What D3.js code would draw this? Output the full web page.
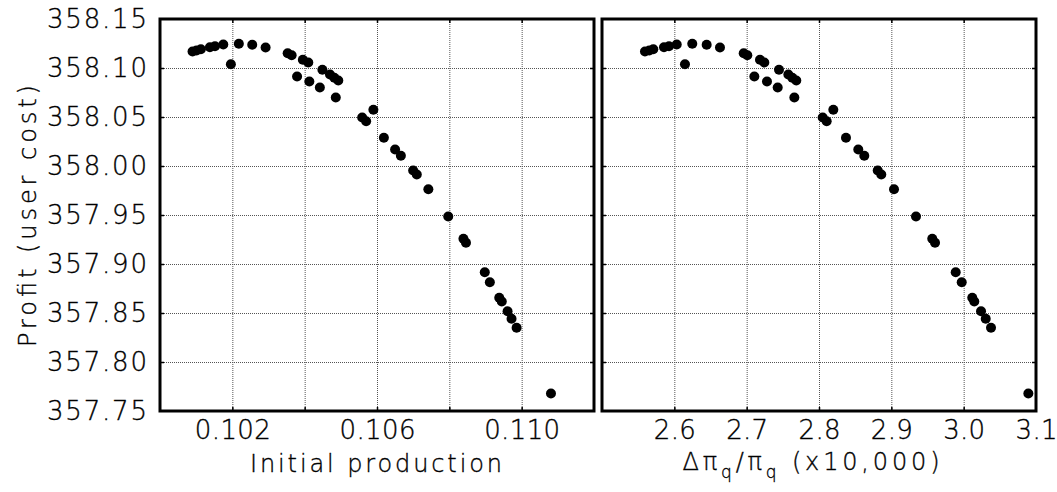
<!DOCTYPE html>
<html><head><meta charset="utf-8">
<script src="https://cdn.jsdelivr.net/npm/d3@7"></script>
<style>
body{margin:0;background:#fff;}
svg{display:block;}
text{font-family:"DejaVu Sans",sans-serif;font-weight:200;fill:#000;stroke:#000;stroke-width:0.35px;}
</style></head>
<body><svg id="c" width="1057" height="492"></svg>
<script>
// Data
const initialProduction = [0.10090,0.10101,0.10113,0.10138,0.10152,0.10175,0.10196,0.10218,0.10255,0.10292,0.10353,0.10364,0.10395,0.10410,0.10379,0.10413,0.10442,0.10449,0.10470,0.10482,0.10493,0.10486,0.10559,0.10570,0.10590,0.10619,0.10650,0.10666,0.10700,0.10710,0.10742,0.10797,0.10839,0.10846,0.10898,0.10912,0.10938,0.10945,0.10961,0.10972,0.10986,0.11081];
const dPiRatio = [2.5594,2.5654,2.5709,2.5857,2.5926,2.6033,2.6147,2.6248,2.6447,2.6631,2.6959,2.7009,2.7184,2.7244,2.7106,2.7281,2.7429,2.7447,2.7576,2.7631,2.7686,2.7659,2.8051,2.8106,2.8198,2.8373,2.8543,2.8626,2.8812,2.8861,2.9037,2.9341,2.9566,2.9604,2.9890,2.9973,3.0119,3.0147,3.0240,3.0305,3.0378,3.0894];
const profit = [358.1168,358.1179,358.1192,358.1212,358.1222,358.1240,358.1039,358.1247,358.1237,358.1209,358.1151,358.1131,358.1084,358.1056,358.0913,358.0862,358.0801,358.0982,358.0934,358.0900,358.0872,358.0699,358.0495,358.0457,358.0574,358.0288,358.0168,358.0104,357.9954,357.9913,357.9763,357.9485,357.9257,357.9216,357.8916,357.8814,357.8655,357.8617,357.8518,357.8441,357.8349,357.7679];

const yTicks = [357.75,357.80,357.85,357.90,357.95,358.00,358.05,358.10,358.15];
const yGrid = [357.80,357.85,357.90,357.95,358.00,358.05,358.10];
const xTicksL = [0.102,0.104,0.106,0.108,0.110];
const xLabelsL = [0.102,0.106,0.110];
const xTicksR = [2.6,2.7,2.8,2.9,3.0];
const xLabelsR = [2.6,2.7,2.8,2.9,3.0,3.1];
const yDomain = [357.75,358.15];
const xDomainL = [0.100,0.112];
const xDomainR = [2.5,3.1];

const svg = d3.select("#c");
const plotTop = 19, plotBottom = 411;
const y = d3.scaleLinear().domain(yDomain).range([plotBottom, plotTop]);
const panels = [
  {x: d3.scaleLinear().domain(xDomainL).range([160,594]), xs: initialProduction, ticks: xTicksL, labels: xLabelsL, fmt: d3.format(".3f"), lw: 76},
  {x: d3.scaleLinear().domain(xDomainR).range([602,1036]), xs: dPiRatio, ticks: xTicksR, labels: xLabelsR, fmt: d3.format(".1f"), lw: 42}
];

panels.forEach((p, i) => {
  const x = p.x, [x0, x1] = x.range();
  const h = plotBottom - plotTop, w = x1 - x0;
  const g = svg.append("g");
  // grid
  g.append("g").attr("transform", `translate(0,${plotBottom})`)
    .call(d3.axisBottom(x).tickValues(p.ticks).tickSize(-h).tickFormat(""))
    .call(a => a.select(".domain").remove())
    .call(a => a.selectAll("line").attr("stroke","#555").attr("stroke-width",1).attr("stroke-dasharray","1,1"));
  g.append("g").attr("transform", `translate(${x0},0)`)
    .call(d3.axisLeft(y).tickValues(yGrid).tickSize(-w).tickFormat(""))
    .call(a => a.select(".domain").remove())
    .call(a => a.selectAll("line").attr("stroke","#555").attr("stroke-width",1).attr("stroke-dasharray","1,1"));
  // inner tick marks on all sides
  const tk = 4;
  const tickStyle = a => { a.select(".domain").remove(); a.selectAll("line").attr("stroke","#000").attr("stroke-width",1.5); };
  g.append("g").attr("transform", `translate(0,${plotBottom})`)
    .call(d3.axisBottom(x).tickValues(p.ticks).tickSize(-tk).tickFormat("")).call(tickStyle);
  g.append("g").attr("transform", `translate(0,${plotTop})`)
    .call(d3.axisTop(x).tickValues(p.ticks).tickSize(-tk).tickFormat("")).call(tickStyle);
  g.append("g").attr("transform", `translate(${x0},0)`)
    .call(d3.axisLeft(y).tickValues(yGrid).tickSize(-tk).tickFormat("")).call(tickStyle);
  g.append("g").attr("transform", `translate(${x1},0)`)
    .call(d3.axisRight(y).tickValues(yGrid).tickSize(-tk).tickFormat("")).call(tickStyle);
  // x tick labels
  g.append("g").attr("transform", `translate(0,${plotBottom})`)
    .call(d3.axisBottom(x).tickValues(p.labels).tickSize(0).tickPadding(10).tickFormat(p.fmt))
    .call(a => a.select(".domain").remove())
    .call(a => a.selectAll("text").attr("font-size",26).attr("font-family",null).attr("fill",null)
      .attr("textLength", p.lw).attr("lengthAdjust","spacing"));
  // y tick labels (left panel only)
  if (i === 0) {
    g.append("g").attr("transform", `translate(${x0},0)`)
      .call(d3.axisLeft(y).tickValues(yTicks).tickSize(0).tickPadding(13).tickFormat(d3.format(".2f")))
      .call(a => a.select(".domain").remove())
      .call(a => a.selectAll("text").attr("font-size",26).attr("font-family",null).attr("fill",null)
        .attr("textLength", 100).attr("lengthAdjust","spacing"));
  }
  // points
  g.append("g").selectAll("circle").data(profit).join("circle")
    .attr("cx", (d, j) => x(p.xs[j])).attr("cy", d => y(d)).attr("r", 5).attr("fill", "#000");
  // frame
  g.append("rect").attr("x", x0).attr("y", plotTop).attr("width", w).attr("height", h)
    .attr("fill","none").attr("stroke","#000").attr("stroke-width",3);
});

// axis titles
svg.append("text").attr("x", 376).attr("y", 472).attr("text-anchor","middle")
  .attr("font-size",24).attr("textLength",252).attr("lengthAdjust","spacing").text("Initial production");
const t2 = svg.append("text").attr("x", 811).attr("y", 470).attr("text-anchor","middle")
  .attr("font-size",24);
t2.append("tspan").text("Δπ");
t2.append("tspan").attr("font-size",17).attr("dy",8).text("q");
t2.append("tspan").attr("dy",-8).text("/π");
t2.append("tspan").attr("font-size",17).attr("dy",8).text("q");
t2.append("tspan").attr("dy",-8).text(" (x10,000)");
t2.attr("textLength",257).attr("lengthAdjust","spacing");
svg.append("text").attr("transform","translate(36,216) rotate(-90)").attr("text-anchor","middle")
  .attr("font-size",24).attr("textLength",262).attr("lengthAdjust","spacing").text("Profit (user cost)");
</script></body></html>
